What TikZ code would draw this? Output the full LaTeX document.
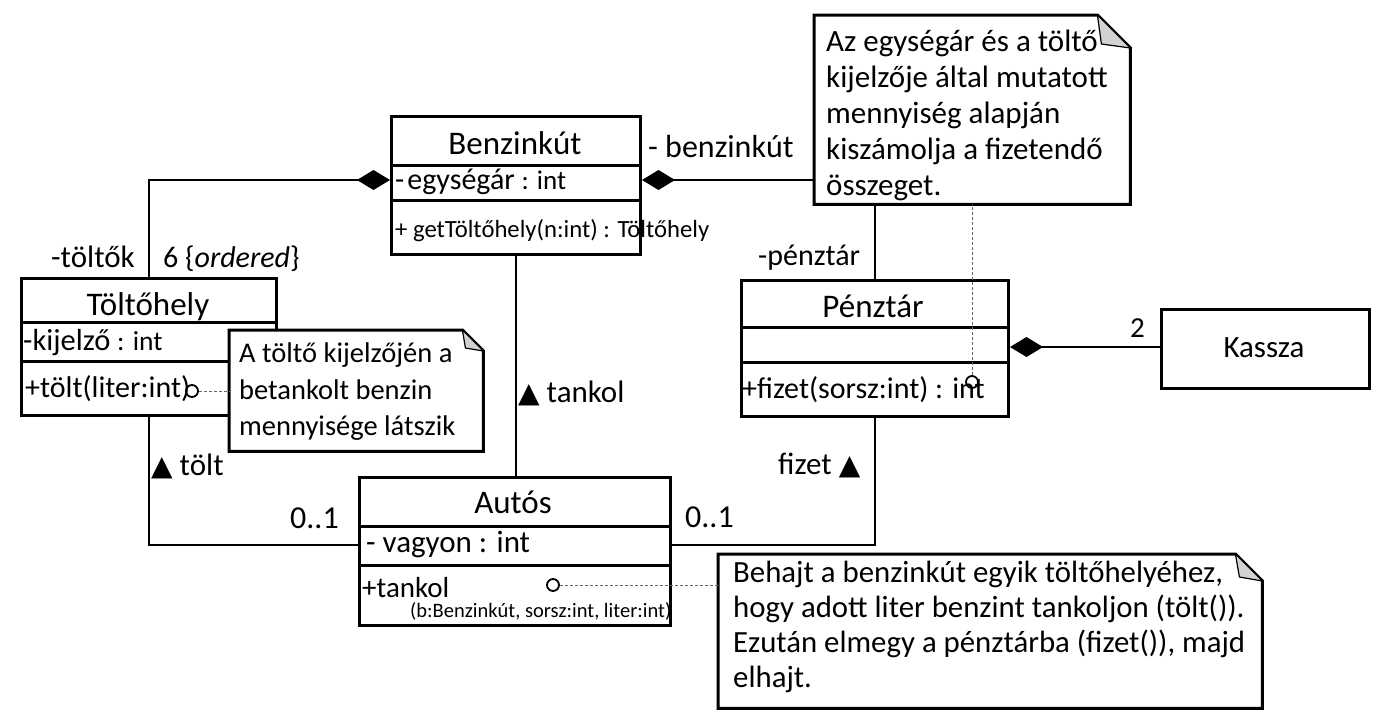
\documentclass[tikz,border=0pt]{standalone}
\usepackage{fontspec}
\setmainfont{Carlito}
\newfontfamily\dejavu{DejaVu Sans}
\usetikzlibrary{arrows.meta}
\newcommand\fs[1]{\fontsize{#1}{#1}\selectfont}
\newcommand\tri{{\dejavu\fontsize{28}{28}\selectfont ▲}}
\begin{document}
\begin{tikzpicture}[x=1pt,y=-1pt,
 cls/.style={draw, line width=3pt, anchor=north west, inner sep=0, fill=white},
 divl/.style={line width=3pt},
 assoc/.style={line width=2.5pt},
 comp/.style={assoc, {Diamond[length=33pt,width=20pt]}-},
 dotl/.style={black!60, line width=1pt, dash pattern=on 3pt off 2pt},
 pinc/.style={circle, draw, line width=1.8pt, minimum size=12pt, inner sep=0},
 notearea/.style={inner sep=0, anchor=north west},
 notebox/.style={draw, line width=3pt, fill=white, line join=miter},
 fold/.style={fill=gray!35, draw, line width=1.2pt, line join=round},
 t/.style={inner sep=0, anchor=base west},
 tc/.style={inner sep=0, anchor=base},
 notetxt/.style={inner sep=0, anchor=north west, align=left},
]
\useasboundingbox (0,0) rectangle (1383,724);

% class boxes
\node[cls, minimum width=249pt, minimum height=138pt] (benz) at (390,115) {};
\node[cls, minimum width=255pt, minimum height=137pt] (tolt) at (20,277) {};
\node[cls, minimum width=311pt, minimum height=148pt] (autos) at (358,476) {};
\node[cls, minimum width=267pt, minimum height=136pt] (pen) at (740,279) {};
\node[cls, minimum width=208pt, minimum height=79pt] (kassza) at (1160,308) {};

% note areas
\node[notearea, minimum width=316pt, minimum height=189pt] (note1) at (814,15) {};
\node[notearea, minimum width=254pt, minimum height=121pt] (note2) at (229,330) {};
\node[notearea, minimum width=544pt, minimum height=154pt] (note3) at (718,554) {};

% dividers
\draw[divl] (benz.west |- 0,165) -- (benz.east |- 0,165);
\draw[divl] (benz.west |- 0,200) -- (benz.east |- 0,200);
\draw[divl] (tolt.west |- 0,322) -- (tolt.east |- 0,322);
\draw[divl] (tolt.west |- 0,361) -- (tolt.east |- 0,361);
\draw[divl] (autos.west |- 0,526) -- (autos.east |- 0,526);
\draw[divl] (autos.west |- 0,565) -- (autos.east |- 0,565);
\draw[divl] (pen.west |- 0,327) -- (pen.east |- 0,327);
\draw[divl] (pen.west |- 0,362) -- (pen.east |- 0,362);

% connectors
\coordinate (bzL) at (benz.west |- 0,180);
\coordinate (bzR) at (benz.east |- 0,180);
\coordinate (penR) at (pen.east |- 0,347);
\coordinate (autL) at (autos.west |- 0,545);
\coordinate (autR) at (autos.east |- 0,545);
\draw[comp] (bzL) -| (tolt.north);
\draw[comp] (bzR) -- (note1.west |- bzR);
\draw[assoc] (note1.south -| pen.north) -- (pen.north);
\draw[comp] (penR) -- (kassza.west |- penR);
\draw[assoc] (pen.south) |- (autR);
\draw[assoc] (tolt.south) |- (autL);
\draw[assoc] (benz.south) -- (benz.south |- autos.north);

% class texts
\node[tc, font=\fs{33}] (benzT) at (515,154) {Benzinkút};
\node[t] (benzA) at (395,189) {\fs{30}-\kern3pt egységár \fs{27}: int};
\node[t, font=\fs{24.7}] (benzM) at (395,237) {+ getTöltőhely(n:int) : Töltőhely};

\node[tc, font=\fs{33}] (toltT) at (148,315) {Töltőhely};
\node[t] (toltA) at (23,350) {\fs{30.5}-kijelző \fs{27.5}: int};
\node[t, font=\fs{30}] (toltM) at (25,397) {+tölt(liter:int)};

\node[tc, font=\fs{33}] (autosT) at (513,513) {Autós};
\node[t, font=\fs{31}] (autosA) at (366,552) {- vagyon : int};
\node[t, font=\fs{29}] (autosM) at (362,597) {+tankol};
\node[t, font=\fs{20.5}] (autosP) at (410,617) {(b:Benzinkút, sorsz:int, liter:int)};

\node[tc, font=\fs{33}] (penT) at (873,317) {Pénztár};
\node[t, font=\fs{30}] (penM) at (742,398) {+fizet(sorsz:int) : int};

\node[tc, font=\fs{31}] (kasT) at (1264,357) {Kassza};

% association labels
\node[t, anchor=base east, font=\fs{31}] (lt1) at (135,267) {-töltők};
\node[t, font=\fs{30}] (lt2) at (163,267) {6 \{\textit{ordered}\}};
\node[t, font=\fs{32}] (lb) at (648,157) {- benzinkút};
\node[t, font=\fs{30}] (lp) at (758,265) {-pénztár};
\node[t, font=\fs{29}] (l2) at (1130,337) {2};
\node[t, font=\fs{31}] (ltank) at (518,402) {\tri\ tankol};
\node[t, font=\fs{31}] (ltolt) at (151,475) {\tri\ tölt};
\node[t, font=\fs{32}] (l01a) at (290,528) {0..1};
\node[t, font=\fs{32}] (l01b) at (685,527) {0..1};
\node[t, font=\fs{31}] (lfiz) at (778,474) {fizet \tri};

% notes
\draw[notebox] (note1.north west) -- ([xshift=-33pt]note1.north east) -- ([yshift=-33pt]note1.north east) -- (note1.south east) -- (note1.south west) -- cycle;
\filldraw[fold] ([xshift=-33pt]note1.north east) -- ([xshift=-29pt,yshift=-29pt]note1.north east) -- ([yshift=-33pt]note1.north east) -- cycle;
\node[notetxt, font=\fontsize{31}{36}\selectfont] (n1t) at (826,30) {Az egységár és a töltő\\kijelzője által mutatott\\mennyiség alapján\\kiszámolja a fizetendő\\összeget.};

\draw[notebox] (note2.north west) -- ([xshift=-21pt]note2.north east) -- ([yshift=-21pt]note2.north east) -- (note2.south east) -- (note2.south west) -- cycle;
\filldraw[fold] ([xshift=-21pt]note2.north east) -- ([xshift=-18pt,yshift=-18pt]note2.north east) -- ([yshift=-21pt]note2.north east) -- cycle;
\node[notetxt, font=\fontsize{28.5}{36.5}\selectfont] (n2t) at (239,343) {A töltő kijelzőjén a\\betankolt benzin\\mennyisége látszik};

\draw[notebox] (note3.north west) -- ([xshift=-27pt]note3.north east) -- ([yshift=-27pt]note3.north east) -- (note3.south east) -- (note3.south west) -- cycle;
\filldraw[fold] ([xshift=-27pt]note3.north east) -- ([xshift=-23pt,yshift=-23pt]note3.north east) -- ([yshift=-27pt]note3.north east) -- cycle;
\node[notetxt, font=\fontsize{30.8}{35}\selectfont] (n3t) at (733,561) {Behajt a benzinkút egyik töltőhelyéhez,\\hogy adott liter benzint tankoljon (tölt()).\\Ezután elmegy a pénztárba (fizet()), majd\\elhajt.};

% anchors of notes
\node[pinc] (c1) at (192,391) {};
\node[pinc] (c2) at (553,585) {};
\node[pinc] (c3) at (972,382) {};
\draw[dotl] (c1) -- (note2.west |- c1);
\draw[dotl] (c2) -- (note3.west |- c2);
\draw[dotl] (c3) -- (note1.south -| c3);
\end{tikzpicture}
\end{document}
